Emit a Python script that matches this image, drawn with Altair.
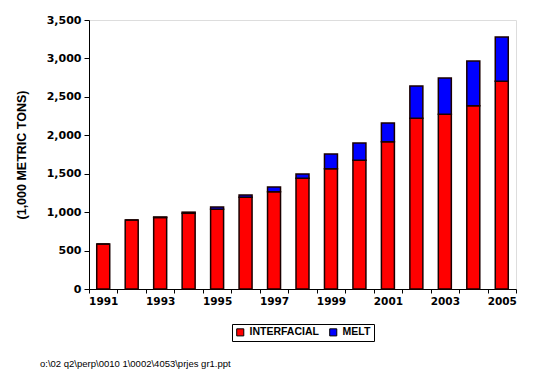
import altair as alt
import pandas as pd

years = list(range(1991, 2006))
interfacial = [585, 898, 930, 985, 1037, 1193, 1266, 1440, 1565, 1674, 1917, 2221, 2273, 2385, 2702]
melt = [0, 0, 7, 15, 30, 30, 61, 56, 191, 226, 243, 420, 472, 581, 577]
series = ["INTERFACIAL", "MELT"]
colors = ["#FF0000", "#0000FF"]
y_ticks = [0, 500, 1000, 1500, 2000, 2500, 3000, 3500]
footer = "o:\\02 q2\\perp\\0010 1\\0002\\4053\\prjes gr1.ppt"

rows = []
for y, a, b in zip(years, interfacial, melt):
    rows.append({"year": y, "series": series[0], "value": a, "ord": 0})
    rows.append({"year": y, "series": series[1], "value": b, "ord": 1})
df = pd.DataFrame(rows)

FONT = "Liberation Sans"
AXF = "DejaVu Sans"

bars = alt.Chart(df).mark_bar(size=13, stroke="#1a0000", strokeWidth=1.5).encode(
    x=alt.X("year:O", title=None,
            scale=alt.Scale(paddingInner=0, paddingOuter=0),
            axis=alt.Axis(labelAngle=0, tickBand="extent",
                          labelExpr="datum.value % 2 == 1 ? datum.value : ''",
                          labelFont=AXF, labelFontSize=10.5, labelFontWeight="bold",
                          labelColor="black", domainColor="black", tickColor="black",
                          tickSize=4, labelPadding=3, domainWidth=1)),
    y=alt.Y("value:Q", stack="zero",
            scale=alt.Scale(domain=[0, 3500], nice=False),
            title="(1,000 METRIC TONS)",
            axis=alt.Axis(values=y_ticks, labelExpr="format(datum.value, ',.0f')", grid=False,
                          labelFont=AXF, labelFontSize=11, labelFontWeight="bold",
                          labelColor="black", domainColor="black", tickColor="black",
                          tickSize=5, labelPadding=3,
                          titleFont=FONT, titleFontSize=12.5, titleFontWeight="bold",
                          titleColor="black", titlePadding=18)),
    color=alt.Color("series:N", scale=alt.Scale(domain=series, range=colors),
                    legend=alt.Legend(title=None, orient="none", direction="horizontal",
                                      legendX=143, legendY=304,
                                      strokeColor="black", padding=3,
                                      symbolType="square", symbolSize=50,
                                      symbolStrokeColor="black", symbolStrokeWidth=1,
                                      labelFont=FONT, labelFontSize=10.5,
                                      labelFontWeight="bold", labelColor="black",
                                      columnPadding=8, symbolOffset=0)),
    order=alt.Order("ord:Q"),
)

foot = alt.Chart(pd.DataFrame({"t": [footer]})).mark_text(
    align="left", baseline="middle", font=FONT, fontSize=9.5, color="black"
).encode(text="t:N", x=alt.value(-49), y=alt.value(344))

chart = alt.layer(bars, foot).properties(
    width=427, height=269,
    autosize=alt.AutoSizeParams(type="none"),
    padding={"left": 89, "top": 20, "right": 18, "bottom": 87},
).configure_view(stroke="black", strokeWidth=1).configure(background="white")

chart.save("out.html", embed_options={"renderer": "svg", "actions": False})
